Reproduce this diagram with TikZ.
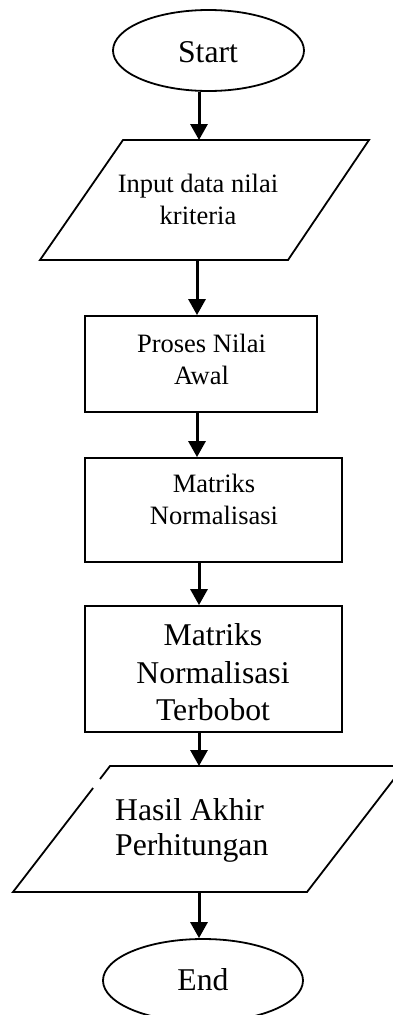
\documentclass[tikz,border=0pt]{standalone}
\usepackage{fontspec}
\setmainfont{Liberation Serif}
\usetikzlibrary{shapes.geometric,arrows.meta}
\begin{document}
\begin{tikzpicture}[x=1pt,y=-1pt,
  outline/.style={draw=black,line width=1.8pt,line join=miter},
  terminal/.style={outline,ellipse,inner sep=0pt},
  process/.style={outline,rectangle,inner sep=0pt},
  flow/.style={line width=3pt,-{Triangle[width=17pt,length=16pt]}},
  smalltext/.style={font=\fontsize{26.5}{32}\selectfont,align=center,inner sep=0pt},
  bigtext/.style={font=\fontsize{31.7}{37.5}\selectfont,align=center,inner sep=0pt}]
\clip (0,0) rectangle (393,1015);

% vertical line the connectors run along
\coordinate (axis) at (199,0);

% Start terminal
\node[terminal,minimum width=191pt,minimum height=81pt] (start) at (208.5,50.5) {};
\node[bigtext] (startlabel) at (208,52) {Start};

% Input parallelogram
\coordinate (inA) at (123,140);
\coordinate (inB) at (369,140);
\coordinate (inC) at (288,260);
\coordinate (inD) at (40,260);
\draw[outline] (inA) -- (inB) -- (inC) -- (inD) -- cycle;
\coordinate (inin) at (199,140);
\coordinate (inout) at (197,260);
\node[smalltext] (inputlabel) at (198,199) {Input data nilai\\kriteria};

% Process boxes
\node[process,minimum width=232pt,minimum height=96pt] (proses) at (201,364) {};
\node[smalltext] (proseslabel) at (201.5,359) {Proses Nilai\\Awal};

\node[process,minimum width=257pt,minimum height=104pt] (norm) at (213.5,510) {};
\node[smalltext] (normlabel) at (214,499) {Matriks\\Normalisasi};

\node[process,minimum width=257pt,minimum height=126pt] (bobot) at (213.5,669) {};
\node[bigtext] (bobotlabel) at (213,672.5) {Matriks\\Normalisasi\\Terbobot};

% Output parallelogram
\coordinate (hA) at (110,766);
\coordinate (hB) at (404,766);
\coordinate (hC) at (307,892);
\coordinate (hD) at (13,892);
\draw[outline] (100,779) -- (hA) -- (hB) -- (hC) -- (hD) -- (93.1,788);
\coordinate (hin) at (199,766);
\coordinate (hout) at (199,892);
\node[bigtext,align=left,anchor=west,font=\fontsize{31.7}{35}\selectfont] (hasillabel) at (115,830.5) {Hasil Akhir\\Perhitungan};

% End terminal
\node[terminal,minimum width=200pt,minimum height=83pt] (stop) at (203,980.5) {};
\node[bigtext] (stoplabel) at (203,980) {End};

% Connectors
\draw[flow] (start.south -| inin) -- (inin);
\draw[flow] (inout) -- (inout |- proses.north);
\draw[flow] (proses.south -| inout) -- (norm.north -| inout);
\draw[flow] (norm.south -| axis) -- (bobot.north -| axis);
\draw[flow] (bobot.south -| axis) -- (hin);
\draw[flow] (hout) -- (stop.north -| axis);
\end{tikzpicture}
\end{document}
